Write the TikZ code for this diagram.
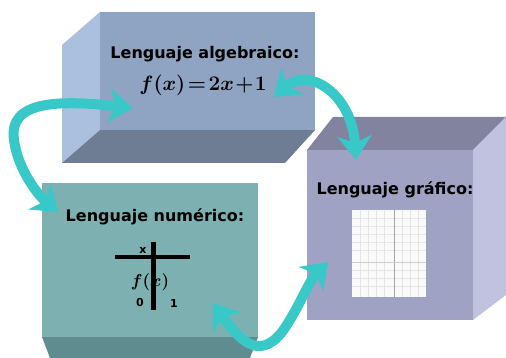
\documentclass[tikz,border=0pt]{standalone}
\usepackage{amsmath}
\usepackage{fontspec}
\newfontfamily\lblfont{DejaVu Sans}
\usetikzlibrary{arrows.meta}
\definecolor{aMain}{HTML}{8EA4C2}
\definecolor{aLeft}{HTML}{AAC0DE}
\definecolor{aBot}{HTML}{6E7D94}
\definecolor{nMain}{HTML}{7DB0B0}
\definecolor{nBot}{HTML}{5F8C8E}
\definecolor{gMain}{HTML}{A0A2C4}
\definecolor{gTop}{HTML}{82839E}
\definecolor{gRight}{HTML}{C0C2E0}
\definecolor{arrcol}{HTML}{38C8C8}
\begin{document}
\begin{tikzpicture}[x=1pt,y=-1pt,
  lbl/.style={font=\lblfont\bfseries\fontsize{16}{19}\selectfont, inner sep=0pt},
  small/.style={font=\lblfont\bfseries\fontsize{11}{13}\selectfont, inner sep=0pt},
  face/.style={anchor=north west, inner sep=0pt, outer sep=0pt},
  arr/.style={draw=arrcol, line width=10pt,
    {Stealth[length=24pt,width=34pt,inset=7pt]}-{Stealth[length=24pt,width=34pt,inset=7pt]}}]
\useasboundingbox (0,0) rectangle (506,358);
\fill[white] (0,0) rectangle (506,358);

% Box 1: algebraic
\fill[aLeft] (100,12) -- (62,45) -- (62,163) -- (100,130) -- cycle;
\fill[aBot] (100,130) -- (315,130) -- (285,163) -- (62,163) -- cycle;
\node[face, fill=aMain, minimum width=215pt, minimum height=118pt] (alg) at (100,12) {};
\node[lbl] (algt) at (205,54) {Lenguaje algebraico:};
\node[inner sep=0pt, font=\fontsize{22}{25}\selectfont] (algf) at (203,85) {$\boldsymbol{f(x)\!=\!2x\!+\!1}$};

% Box 2: numeric
\fill[nBot] (42,337) -- (258,337) -- (250,358) -- (50,358) -- cycle;
\node[face, fill=nMain, minimum width=216pt, minimum height=154pt] (num) at (42,183) {};
\node[lbl] (numt) at (155,217) {Lenguaje numérico:};
\draw[line width=4pt] (115,257) -- (190,257);
\node[small] (tx) at (143,250) {x};
\node[inner sep=0pt, font=\fontsize{16}{18}\selectfont] (tf) at (150,282) {$\boldsymbol{f(x)}$};
\draw[line width=5pt] (153,242) -- (153,310);
\node[small] (t0) at (140,302) {0};
\node[small] (t1) at (174,303) {1};

% Box 3: graphic
\fill[gTop] (307,150) -- (333,117) -- (506,117) -- (473,150) -- cycle;
\fill[gRight] (473,150) -- (506,117) -- (506,295) -- (473,320) -- cycle;
\node[face, fill=gMain, minimum width=166pt, minimum height=170pt] (graf) at (307,150) {};
\node[lbl] (graft) at (395,190) {Lenguaje gráfico:};
\node[face, fill=white!96!gray, minimum width=74pt, minimum height=87pt] (plot) at (352,210) {};
\foreach \gx in {360,368,376,384,402,410,418}
  \draw[gray!20, line width=0.4pt] (\gx,210) -- (\gx,297);
\foreach \gy in {218,226,234,242,250,270,278,286}
  \draw[gray!20, line width=0.4pt] (352,\gy) -- (426,\gy);
\draw[gray!70, line width=0.8pt] (394,210) -- (394,297);
\draw[gray!40, line width=0.6pt] (352,262) -- (426,262);

% Arrows
\coordinate (a1) at (133,108);
\coordinate (a2) at (58,212);
\coordinate (b1) at (274,97);
\coordinate (b2) at (356,160);
\coordinate (c1) at (213,303);
\coordinate (c2) at (328,262);
\draw[arr] (a1) .. controls (60,100) and (8,100) .. (14,140) .. controls (18,170) and (38,195) .. (a2);
\draw[arr] (b1) .. controls (310,66) and (352,95) .. (b2);
\draw[arr] (c1) .. controls (238,338) and (258,362) .. (282,332) .. controls (298,310) and (308,282) .. (c2);
\end{tikzpicture}
\end{document}
